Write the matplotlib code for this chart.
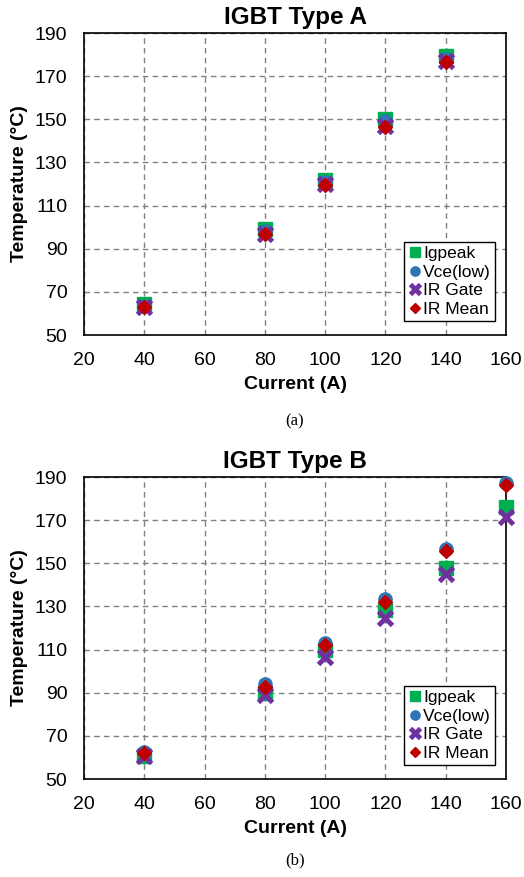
import numpy as np
import matplotlib.pyplot as plt

plt.rcParams['font.family'] = ['Liberation Sans', 'DejaVu Sans']

# IGBT Type A
current_a = [40, 80, 100, 120, 140]
igpeak_a = [64.5, 99, 122, 150, 179.5]
vce_a = [63.5, 98, 121, 149, 178]
irgate_a = [63, 97, 120, 147, 177]
irmean_a = [63, 97, 119.5, 146.5, 176.5]

# IGBT Type B
current_b = [40, 80, 100, 120, 140, 160]
igpeak_b = [60.5, 90, 110, 128.5, 148, 176]
vce_b = [62.5, 94, 113, 133.5, 156.5, 187]
irgate_b = [60.5, 89, 106.5, 124.5, 145, 171.5]
irmean_b = [62, 92.5, 112, 132, 155.5, 186.5]

series_names = ["Igpeak", "Vce(low)", "IR Gate", "IR Mean"]

fig = plt.figure(figsize=(5.24, 8.77), dpi=100)
W, H = 524, 877
ax1 = fig.add_axes([84 / W, 1 - 335 / H, 422 / W, 302 / H])
ax2 = fig.add_axes([84 / W, 1 - 779 / H, 422 / W, 302 / H])


def draw(ax, x, ig, vc, gate, mean, title):
    ax.plot(x, ig, 's', color='#00B050', ms=10, ls='none', label=series_names[0], zorder=3, clip_on=False)
    ax.plot(x, vc, 'o', color='#2E75B6', ms=9.5, ls='none', label=series_names[1], zorder=4, clip_on=False)
    ax.plot(x, gate, 'x', color='#7030A0', ms=10, mew=3.5, ls='none', label=series_names[2], zorder=5, clip_on=False)
    ax.plot(x, mean, 'D', color='#C00000', ms=7, ls='none', label=series_names[3], zorder=6, clip_on=False)
    ax.set_xlim(20, 160)
    ax.set_ylim(50, 190)
    ax.set_xticks(np.arange(20, 161, 20))
    ax.set_yticks(np.arange(50, 191, 20))
    ax.grid(True, ls=(0, (4, 3)), color='#808080', lw=1)
    ax.set_axisbelow(True)
    ax.tick_params(length=0, labelsize=14)
    ax.tick_params(axis='y', pad=12)
    ax.tick_params(axis='x', pad=12)
    for s in ax.spines.values():
        s.set_linewidth(1.2)
    ax.set_title(title, fontsize=17.5, fontweight='bold', pad=6.5)
    ax.set_xlabel("Current (A)", fontsize=14, fontweight='bold', labelpad=5)
    ax.set_ylabel("Temperature (°C)", fontsize=14, fontweight='bold', labelpad=5)
    leg = ax.legend(loc='lower right', bbox_to_anchor=(0.975, 0.045), fontsize=12.5,
                    handlelength=0.7, handletextpad=0.15, borderpad=0.25,
                    labelspacing=0.2, borderaxespad=0, fancybox=False,
                    markerscale=0.7, framealpha=1, edgecolor='black')
    leg.get_frame().set_linewidth(1)


draw(ax1, current_a, igpeak_a, vce_a, irgate_a, irmean_a, "IGBT Type A")
draw(ax2, current_b, igpeak_b, vce_b, irgate_b, irmean_b, "IGBT Type B")

fig.text(295 / W, 1 - 421 / H, "(a)", ha='center', va='center', fontsize=12,
         family=['Liberation Serif', 'DejaVu Serif'])
fig.text(295 / W, 1 - 860 / H, "(b)", ha='center', va='center', fontsize=12,
         family=['Liberation Serif', 'DejaVu Serif'])

plt.savefig("out.png", dpi=100)
